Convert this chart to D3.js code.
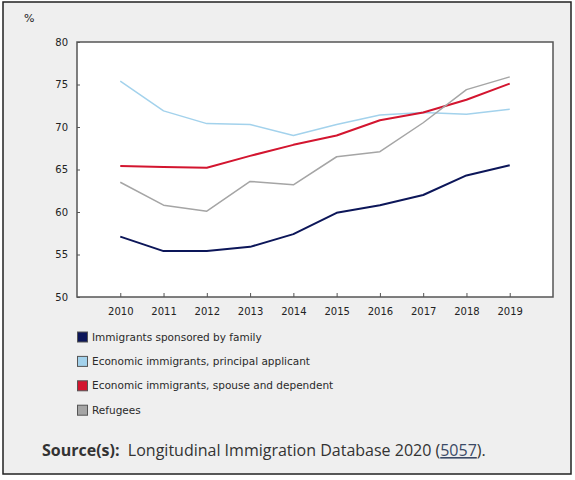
<!DOCTYPE html>
<html>
<head>
<meta charset="utf-8">
<script src="https://d3js.org/d3.v7.min.js"></script>
<style>
  body { margin: 0; background: #fff; }
  .frame { fill: #efefef; stroke: #222; stroke-width: 1.5px; }
  .plot-bg { fill: #fff; stroke: #555; stroke-width: 1.5px; }
  .axis text { font-family: "DejaVu Sans", Verdana, sans-serif; font-size: 10px; fill: #222; }
  .axis line { stroke: #555; stroke-width: 1px; }
  .legend text { font-family: "DejaVu Sans", Verdana, sans-serif; font-size: 10.5px; fill: #2a2a2a; }
  .series { fill: none; stroke-linejoin: round; }
  .source { font-family: "Open Sans", "Noto Sans", sans-serif; font-size: 16px; fill: #333; }
</style>
</head>
<body>
<script>
// data
var years = [2010, 2011, 2012, 2013, 2014, 2015, 2016, 2017, 2018, 2019];
var yTicks = [50, 55, 60, 65, 70, 75, 80];

var seriesNames = [
  "Immigrants sponsored by family",
  "Economic immigrants, principal applicant",
  "Economic immigrants, spouse and dependent",
  "Refugees"
];
var family    = [57.1, 55.4, 55.4, 55.9, 57.4, 59.9, 60.8, 62.0, 64.3, 65.5];
var principal = [75.4, 71.9, 70.4, 70.3, 69.0, 70.3, 71.4, 71.7, 71.5, 72.1];
var spouse    = [65.4, 65.3, 65.2, 66.6, 67.9, 69.0, 70.8, 71.7, 73.2, 75.1];
var refugees  = [63.5, 60.8, 60.1, 63.6, 63.2, 66.5, 67.1, 70.5, 74.4, 75.9];
var seriesColors = ["#0c1659", "#a3d2ec", "#d3152f", "#a5a5a5"];
var seriesWidths = [2, 1.5, 2, 1.5];

var series = [family, principal, spouse, refugees].map(function(vals, i) {
  return { name: seriesNames[i], color: seriesColors[i], width: seriesWidths[i],
           values: vals.map(function(v, j) { return { year: years[j], value: v }; }) };
});

var W = 575, H = 480;
var plot = { left: 77, top: 42, right: 553, bottom: 297 };

var svg = d3.select("body").append("svg")
    .attr("width", W)
    .attr("height", H);

svg.append("rect").attr("class", "frame")
    .attr("x", 3).attr("y", 2).attr("width", 568).attr("height", 472);

var x = d3.scaleLinear()
    .domain([2009, 2020])
    .range([plot.left, plot.right]);

var y = d3.scaleLinear()
    .domain([50, 80])
    .range([plot.bottom, plot.top]);

svg.append("rect").attr("class", "plot-bg")
    .attr("x", plot.left).attr("y", plot.top)
    .attr("width", plot.right - plot.left).attr("height", plot.bottom - plot.top);

// y axis, ticks pointing into the plot
var yAxis = svg.append("g")
    .attr("class", "axis")
    .attr("transform", "translate(" + plot.left + ",0)")
    .call(d3.axisLeft(y).tickValues(yTicks).tickSizeInner(-3).tickSizeOuter(0).tickPadding(9));
yAxis.select(".domain").remove();

// x axis, ticks pointing up into the plot
var xAxis = svg.append("g")
    .attr("class", "axis")
    .attr("transform", "translate(0," + plot.bottom + ")")
    .call(d3.axisBottom(x).tickValues(years).tickFormat(d3.format("d"))
      .tickSizeInner(-4).tickSizeOuter(0).tickPadding(11));
xAxis.select(".domain").remove();

svg.append("text")
    .attr("x", 24).attr("y", 22)
    .style("font-family", "DejaVu Sans, Verdana, sans-serif")
    .style("font-size", "11px")
    .style("fill", "#222")
    .text("%");

var line = d3.line()
    .x(function(d) { return x(d.year); })
    .y(function(d) { return y(d.value); });

svg.selectAll(".series")
    .data(series)
    .enter().append("path")
    .attr("class", "series")
    .attr("stroke", function(d) { return d.color; })
    .attr("stroke-width", function(d) { return d.width; })
    .attr("d", function(d) { return line(d.values); });

// legend
var legend = svg.append("g").attr("class", "legend");
var rows = legend.selectAll("g")
    .data(series)
    .enter().append("g")
    .attr("transform", function(d, i) { return "translate(77," + (337 + i * 24.4) + ")"; });

rows.append("rect")
    .attr("x", 0.5).attr("y", -5)
    .attr("width", 10).attr("height", 10)
    .attr("fill", function(d) { return d.color; })
    .attr("stroke", "#555").attr("stroke-width", 1);

rows.append("text")
    .attr("x", 15).attr("y", 0)
    .attr("dy", "0.35em")
    .text(function(d) { return d.name; });

// source note
var src = svg.append("text").attr("class", "source")
    .attr("x", 42).attr("y", 456);
src.append("tspan").style("font-weight", "bold").text("Source(s):");
src.append("tspan").text("\u00a0 Longitudinal Immigration Database 2020 (");
src.append("tspan").style("text-decoration", "underline").style("fill", "#3b4a66").text("5057");
src.append("tspan").text(").");
</script>
</body>
</html>
